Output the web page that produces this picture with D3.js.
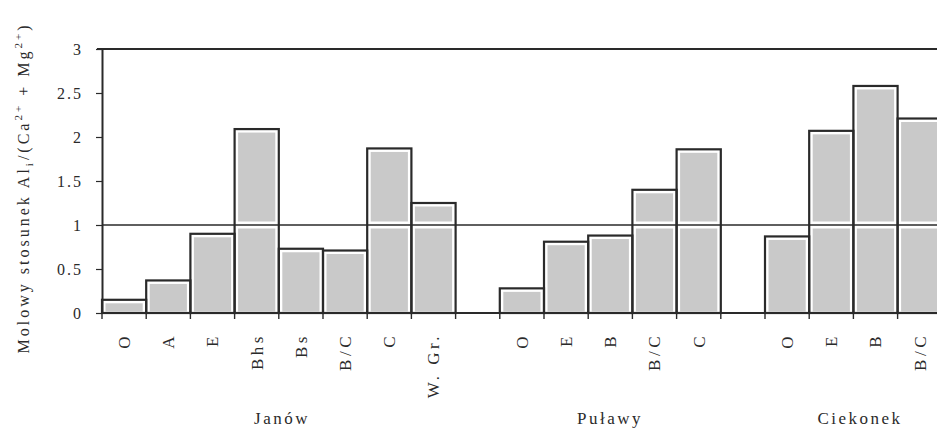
<!DOCTYPE html>
<meta charset="utf-8">
<script src="https://d3js.org/d3.v7.min.js"></script>
<body style="margin:0;background:#fff;">
<svg id="chart" width="937" height="429"></svg>
<script>
  // data
  let janowCats = ["O", "A", "E", "Bhs", "Bs", "B/C", "C", "W. Gr."];
  let janowVals = [0.15, 0.37, 0.90, 2.09, 0.73, 0.71, 1.87, 1.25];
  let pulawyCats = ["O", "E", "B", "B/C", "C"];
  let pulawyVals = [0.28, 0.81, 0.88, 1.40, 1.86];
  let ciekonekCats = ["O", "E", "B", "B/C"];
  let ciekonekVals = [0.87, 2.07, 2.58, 2.21];
  let groupNames = ["Janów", "Puławy", "Ciekonek"];
  let yTicks = [0, 0.5, 1, 1.5, 2, 2.5, 3];

  let groups = [
    {name: groupNames[0], cats: janowCats, vals: janowVals},
    {name: groupNames[1], cats: pulawyCats, vals: pulawyVals},
    {name: groupNames[2], cats: ciekonekCats, vals: ciekonekVals}
  ];

  // one slot per bar, plus an empty slot between groups
  let slots = [];
  let bars = [];
  groups.forEach((g, gi) => {
    g.cats.forEach((c, i) => {
      let key = g.name + "|" + c;
      slots.push(key);
      bars.push({key: key, cat: c, value: g.vals[i]});
    });
    if (gi < groups.length - 1) slots.push("gap" + gi);
  });

  let ink = "#2a2a2a";
  let serif = "'Liberation Serif', 'DejaVu Serif', serif";
  let plotLeft = 102, plotBottom = 313, plotTop = 49, bandW = 44.2;

  let svg = d3.select("#chart");
  let x = d3.scaleBand().domain(slots).range([plotLeft, plotLeft + slots.length * bandW]).padding(0);
  let y = d3.scaleLinear().domain([0, 3]).range([plotBottom, plotTop]);

  // gray fill, inset from the outline
  svg.selectAll("rect.fill").data(bars).enter()
    .append("rect")
    .attr("class", "fill")
    .attr("x", d => x(d.key) + 3.5)
    .attr("y", d => y(d.value) + 3.5)
    .attr("width", x.bandwidth() - 7)
    .attr("height", d => Math.max(0, y(0) - y(d.value) - 5))
    .attr("fill", "#c9c9c9");

  // white halo under the line at 1
  svg.append("line")
    .attr("x1", plotLeft).attr("x2", 937)
    .attr("y1", y(1)).attr("y2", y(1))
    .attr("stroke", "#fff").attr("stroke-width", 7);

  // bar outlines
  svg.selectAll("rect.edge").data(bars).enter()
    .append("rect")
    .attr("class", "edge")
    .attr("x", d => x(d.key))
    .attr("y", d => y(d.value))
    .attr("width", x.bandwidth())
    .attr("height", d => y(0) - y(d.value))
    .attr("fill", "none")
    .attr("stroke", ink)
    .attr("stroke-width", 2.2);

  // line at 1 and top border
  svg.append("line")
    .attr("x1", plotLeft).attr("x2", 937)
    .attr("y1", y(1)).attr("y2", y(1))
    .attr("stroke", ink).attr("stroke-width", 1.6);
  svg.append("line")
    .attr("x1", plotLeft - 5).attr("x2", 937)
    .attr("y1", y(3)).attr("y2", y(3))
    .attr("stroke", ink).attr("stroke-width", 2);

  // y axis
  let yAxis = svg.append("g")
    .attr("transform", "translate(" + plotLeft + ",0)")
    .call(d3.axisLeft(y).tickValues(yTicks).tickSize(6).tickSizeOuter(0).tickPadding(13).tickFormat(d3.format("")));
  yAxis.select(".domain").attr("stroke", ink).attr("stroke-width", 2);
  yAxis.selectAll(".tick line").attr("stroke", ink).attr("stroke-width", 1.2);
  yAxis.selectAll(".tick text")
    .attr("fill", ink)
    .style("font-family", serif)
    .style("font-size", "16px")
    .style("letter-spacing", "2px");

  // x axis: base line and ticks at every slot edge
  svg.append("line")
    .attr("x1", plotLeft).attr("x2", 937)
    .attr("y1", plotBottom).attr("y2", plotBottom)
    .attr("stroke", ink).attr("stroke-width", 2.2);
  let edges = slots.map(s => x(s)).concat([x(slots[slots.length - 1]) + x.bandwidth()]);
  svg.selectAll("line.xtick").data(edges).enter()
    .append("line")
    .attr("class", "xtick")
    .attr("x1", d => d).attr("x2", d => d)
    .attr("y1", plotBottom).attr("y2", plotBottom + 6)
    .attr("stroke", ink).attr("stroke-width", 1.4);

  // category labels, rotated
  svg.selectAll("text.cat").data(bars).enter()
    .append("text")
    .attr("class", "cat")
    .attr("transform", d => "translate(" + (x(d.key) + x.bandwidth() / 2) + ",333) rotate(-90)")
    .attr("text-anchor", "end")
    .attr("dy", "0.35em")
    .attr("fill", ink)
    .style("font-family", serif)
    .style("font-size", "17px")
    .style("letter-spacing", "3.5px")
    .text(d => d.cat);

  // group labels
  let groupX = [282, 610, 860];
  svg.selectAll("text.grp").data(groupNames).enter()
    .append("text")
    .attr("class", "grp")
    .attr("x", (d, i) => groupX[i])
    .attr("y", 424)
    .attr("text-anchor", "middle")
    .attr("fill", ink)
    .style("font-family", serif)
    .style("font-size", "17px")
    .style("letter-spacing", "2.5px")
    .text(d => d);

  // y axis title
  let title = svg.append("text")
    .attr("transform", "translate(23,188) rotate(-90)")
    .attr("text-anchor", "middle")
    .attr("dy", "0.35em")
    .attr("fill", ink)
    .style("font-family", serif)
    .style("font-size", "16px")
    .style("letter-spacing", "3px");
  title.append("tspan").text("Molowy stosunek Al");
  title.append("tspan").attr("dy", "4").style("font-size", "11px").text("i");
  title.append("tspan").attr("dy", "-4").text("/(Ca");
  title.append("tspan").attr("dy", "-7").style("font-size", "11px").text("2+");
  title.append("tspan").attr("dy", "7").text(" + Mg");
  title.append("tspan").attr("dy", "-7").style("font-size", "11px").text("2+");
  title.append("tspan").attr("dy", "7").text(")");
</script>
